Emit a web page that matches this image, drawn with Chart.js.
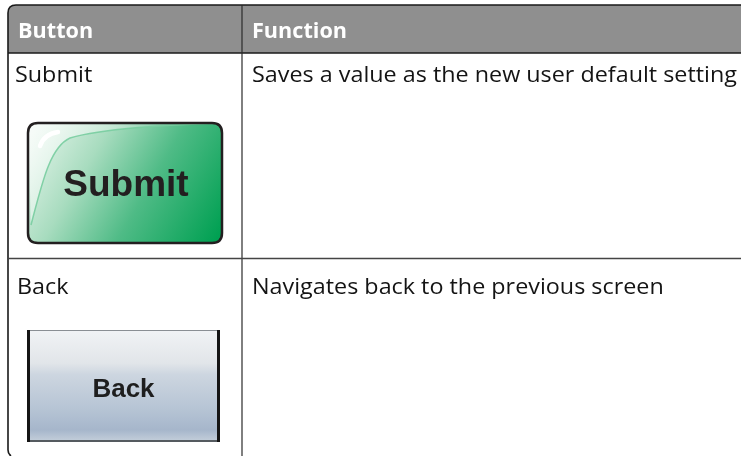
<!DOCTYPE html>
<html>
<head>
<meta charset="utf-8">
<script src="https://cdn.jsdelivr.net/npm/chart.js@4/dist/chart.umd.min.js"></script>
<style>
  html, body { margin: 0; padding: 0; background: #ffffff; }
  #wrap { width: 741px; height: 456px; }
  canvas { display: block; }
</style>
</head>
<body>
<div id="wrap"><canvas id="c" width="741" height="456"></canvas></div>
<script>
// ---- table content ----
const columnHeaders = ["Button", "Function"];
const buttonNames = ["Submit", "Back"];
const buttonFaceLabels = ["Submit", "Back"];
const functionTexts = [
  "Saves a value as the new user default setting",
  "Navigates back to the previous screen"
];

const BODY_FONT = '"Open Sans", "Lato", "Liberation Sans", sans-serif';
const FACE_FONT = '"Liberation Sans", Arial, sans-serif';

function roundRectPath(ctx, x, y, w, h, r) {
  ctx.beginPath();
  ctx.moveTo(x + r, y);
  ctx.lineTo(x + w - r, y);
  ctx.quadraticCurveTo(x + w, y, x + w, y + r);
  ctx.lineTo(x + w, y + h - r);
  ctx.quadraticCurveTo(x + w, y + h, x + w - r, y + h);
  ctx.lineTo(x + r, y + h);
  ctx.quadraticCurveTo(x, y + h, x, y + h - r);
  ctx.lineTo(x, y + r);
  ctx.quadraticCurveTo(x, y, x + r, y);
  ctx.closePath();
}

// text drawn with a horizontal squeeze so a Calibri-like width is kept
function fitText(ctx, text, x, y, sx) {
  ctx.save();
  ctx.translate(x, y);
  ctx.scale(sx, 1);
  ctx.fillText(text, 0, 0);
  ctx.restore();
}

function drawSubmitButton(ctx, label) {
  const x = 28, y = 123, w = 194, h = 120, r = 10;
  ctx.save();
  roundRectPath(ctx, x, y, w, h, r);
  const g = ctx.createLinearGradient(x + 10, y, x + w, y + h * 0.9);
  g.addColorStop(0, '#e4f4ea');
  g.addColorStop(0.3, '#a8dcbf');
  g.addColorStop(0.6, '#4fbb86');
  g.addColorStop(1, '#00a052');
  ctx.fillStyle = g;
  ctx.fill();
  ctx.clip();
  // gloss sheen
  const curve = () => {
    ctx.moveTo(x + 3, y + h - 18);
    ctx.bezierCurveTo(x + 14, y + 60, x + 22, y + 24, x + 42, y + 15);
    ctx.bezierCurveTo(x + 80, y + 4, x + 150, y + 2, x + w, y);
  };
  ctx.beginPath();
  ctx.moveTo(x, y + h - 10);
  curve();
  ctx.lineTo(x, y);
  ctx.closePath();
  const sg = ctx.createLinearGradient(x, y, x + 110, y + 70);
  sg.addColorStop(0, 'rgba(255,255,255,0.7)');
  sg.addColorStop(1, 'rgba(255,255,255,0.08)');
  ctx.fillStyle = sg;
  ctx.fill();
  ctx.beginPath();
  curve();
  ctx.strokeStyle = 'rgba(120,205,160,0.9)';
  ctx.lineWidth = 1.5;
  ctx.stroke();
  // white highlight
  ctx.beginPath();
  ctx.moveTo(x + 12, y + 23);
  ctx.quadraticCurveTo(x + 16, y + 11, x + 30, y + 9);
  ctx.strokeStyle = '#ffffff';
  ctx.lineWidth = 4.5;
  ctx.lineCap = 'round';
  ctx.stroke();
  ctx.restore();
  roundRectPath(ctx, x, y, w, h, r);
  ctx.strokeStyle = '#231f20';
  ctx.lineWidth = 2.5;
  ctx.stroke();
  ctx.fillStyle = '#231f20';
  ctx.font = 'bold 37px ' + FACE_FONT;
  ctx.textAlign = 'center';
  ctx.textBaseline = 'alphabetic';
  ctx.fillText(label, x + w / 2 + 1, 196);
}

function drawBackButton(ctx, label) {
  const x = 28, y = 330, w = 191, h = 111;
  const g = ctx.createLinearGradient(0, y, 0, y + h);
  g.addColorStop(0, '#f1f3f5');
  g.addColorStop(0.3, '#e1e5e9');
  g.addColorStop(0.4, '#cdd6e0');
  g.addColorStop(0.7, '#b7c5d5');
  g.addColorStop(0.9, '#a6b6cb');
  g.addColorStop(1, '#c3ceda');
  ctx.fillStyle = g;
  ctx.fillRect(x, y, w, h);
  ctx.fillStyle = '#8a8f94';
  ctx.fillRect(x, y, w, 1);
  ctx.fillStyle = '#555b60';
  ctx.fillRect(x, y + h - 1, w, 2);
  ctx.fillStyle = '#151515';
  ctx.fillRect(x - 1, y, 3, h + 1);
  ctx.fillRect(x + w - 2, y, 3, h + 1);
  ctx.fillStyle = '#1e1e1e';
  ctx.font = 'bold 26px ' + FACE_FONT;
  ctx.textAlign = 'center';
  ctx.textBaseline = 'alphabetic';
  ctx.fillText(label, x + w / 2, 397);
}

const tablePlugin = {
  id: 'tablePlugin',
  beforeDraw(chart) {
    const ctx = chart.ctx;
    const W = chart.width, H = chart.height;
    const L = 8, T = 5, HB = 53, COL = 242, RSEP = 258.5;
    ctx.save();
    ctx.fillStyle = '#ffffff';
    ctx.fillRect(0, 0, W, H);

    // header band
    ctx.beginPath();
    ctx.moveTo(L, HB);
    ctx.lineTo(L, T + 8);
    ctx.quadraticCurveTo(L, T, L + 8, T);
    ctx.lineTo(W, T);
    ctx.lineTo(W, HB);
    ctx.closePath();
    ctx.fillStyle = '#8f8f8f';
    ctx.fill();

    // outer border (top + left with rounded corners)
    ctx.beginPath();
    ctx.moveTo(W, T);
    ctx.lineTo(L + 8, T);
    ctx.quadraticCurveTo(L, T, L, T + 8);
    ctx.lineTo(L, H - 6);
    ctx.quadraticCurveTo(L, H - 2, L + 3, H);
    ctx.strokeStyle = '#1a1a1a';
    ctx.lineWidth = 1.6;
    ctx.stroke();

    // header bottom line
    ctx.beginPath();
    ctx.moveTo(L, HB);
    ctx.lineTo(W, HB);
    ctx.strokeStyle = '#1a1a1a';
    ctx.lineWidth = 1.6;
    ctx.stroke();

    // column divider
    ctx.beginPath();
    ctx.moveTo(COL, T);
    ctx.lineTo(COL, H);
    ctx.strokeStyle = '#2a2a2a';
    ctx.lineWidth = 1.2;
    ctx.stroke();

    // row separator
    ctx.beginPath();
    ctx.moveTo(L, RSEP);
    ctx.lineTo(W, RSEP);
    ctx.strokeStyle = '#444444';
    ctx.lineWidth = 1.6;
    ctx.stroke();

    // width calibration so text spans like the reference
    ctx.font = '21px ' + BODY_FONT;
    const sx = 485 / ctx.measureText(functionTexts[0]).width;
    ctx.font = 'bold 21px ' + BODY_FONT;
    const sxb = 95 / ctx.measureText(columnHeaders[1]).width;

    // header text
    ctx.textAlign = 'left';
    ctx.textBaseline = 'alphabetic';
    ctx.fillStyle = '#ffffff';
    ctx.font = 'bold 21px ' + BODY_FONT;
    fitText(ctx, columnHeaders[0], 18, 38, sxb);
    fitText(ctx, columnHeaders[1], 252, 38, sxb);

    // body text
    ctx.fillStyle = '#141414';
    ctx.font = '21px ' + BODY_FONT;
    const baselines = [82, 294];
    buttonNames.forEach((name, i) => {
      fitText(ctx, name, 15 + i * 2, baselines[i], sx);
      fitText(ctx, functionTexts[i], 252, baselines[i], sx);
    });

    drawSubmitButton(ctx, buttonFaceLabels[0]);
    drawBackButton(ctx, buttonFaceLabels[1]);
    ctx.restore();
  }
};

new Chart(document.getElementById('c'), {
  type: 'bar',
  data: { labels: buttonNames, datasets: [] },
  options: {
    responsive: false,
    animation: false,
    events: [],
    layout: { padding: 0 },
    plugins: { legend: { display: false }, tooltip: { enabled: false }, title: { display: false } },
    scales: { x: { display: false }, y: { display: false } }
  },
  plugins: [tablePlugin]
});
</script>
</body>
</html>
